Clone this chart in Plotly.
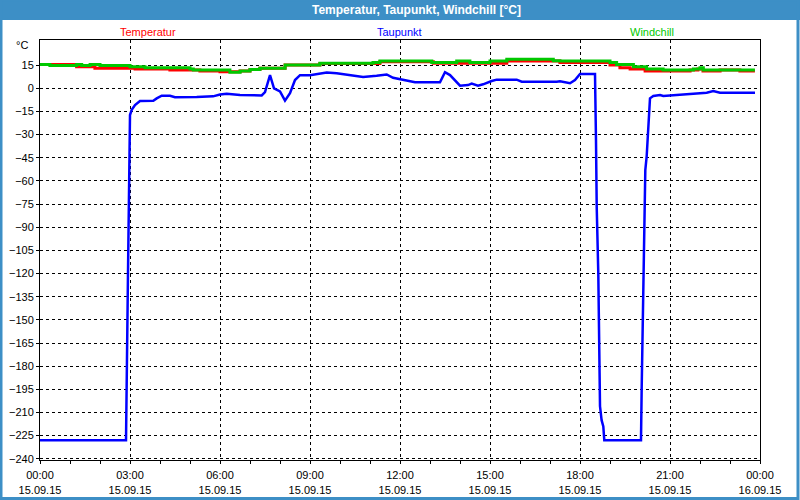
import plotly.graph_objects as go

# ---- data (hours since 15.09.15 00:00, °C) ----
temp_h = [0, 1.22, 1.83, 3.17, 4.33, 5.33, 6.0, 6.67, 7.0, 7.33, 8.17, 9.33, 11.33, 13.11,
          14.33, 15.56, 17.33, 18.0, 19.0, 19.33, 19.67, 20.17, 21.67, 21.93, 22.1, 22.67,
          23.33, 23.83]
temp_v = [15.5, 14.0, 13.0, 12.5, 11.9, 11.2, 10.8, 11.2, 12.2, 13.0, 15.1, 16.0, 17.2, 16.2,
          16.2, 17.7, 16.8, 16.8, 15.1, 13.4, 12.5, 11.2, 11.9, 12.5, 11.2, 11.9,
          11.2, 11.2]

wind_h = [0, 0.33, 1.22, 1.39, 1.67, 2.0, 3.0, 3.5, 5.0, 5.11, 6.0, 6.33, 6.67, 7.0, 7.33,
          8.17, 9.33, 11.1, 11.33, 13.06, 13.89, 14.33, 15.0, 15.56, 17.11, 17.33, 19.0,
          19.22, 19.78, 20.22, 20.77, 21.78, 22.0, 22.11, 23.83]
wind_v = [15.5, 14.7, 15.5, 14.7, 15.5, 14.7, 14.0, 13.4, 12.5, 11.9, 11.9, 10.4, 11.2, 12.2, 13.0,
          15.1, 16.2, 16.8, 17.7, 16.8, 17.7, 16.8, 17.7, 18.8, 17.9, 17.7, 16.8,
          15.5, 14.0, 12.5, 11.9, 12.5, 13.4, 11.9, 11.9]

dew_h = [0, 2.867, 2.933, 2.977, 3.0, 3.057, 3.167, 3.333, 3.777, 3.89, 4.057, 4.333, 4.5,
         5.223, 5.767, 6.0, 6.223, 6.667, 7.39, 7.5, 7.667, 7.8, 8.0, 8.167, 8.333, 8.5,
         8.667, 9.0, 9.557, 9.89, 10.43, 10.77, 11.22, 11.557, 11.77, 12.0, 12.22, 12.5,
         13.333, 13.5, 13.667, 14.0, 14.267, 14.39, 14.6, 14.77, 15.057, 15.223, 15.89,
         16.057, 17.223, 17.333, 17.667, 17.833, 18.0, 18.5, 18.533, 18.557, 18.61, 18.643,
         18.667, 18.72, 18.777, 18.81, 20.033, 20.057, 20.09, 20.11, 20.143, 20.177, 20.223,
         20.257, 20.29, 20.333, 20.443, 20.667, 20.777, 21.11, 21.333, 22.223, 22.443,
         22.667, 23.833]
dew_v = [-228, -228, -120, -33.5, -17.3, -14, -10.8, -8.2, -8, -6.5, -4.8, -4.8, -5.8,
         -5.6, -5.2, -4.0, -3.5, -4.3, -4.6, -2.5, 8.6, 0, -2, -8, -3.2, 5.4,
         8.5, 8.4, 10.2, 9.7, 8.4, 7.4, 8.2, 9.0, 6.8, 6.0, 5.3, 3.9,
         3.9, 10.4, 8.6, 1.7, 2.1, 3.0, 1.7, 2.6, 4.7, 5.6, 5.6,
         4.3, 4.3, 4.5, 3.3, 5.4, 9.3, 9.3, -33.5, -76.7, -120, -163,
         -206, -215, -219, -228, -228, -193, -159, -124, -90, -53, -44,
         -33.5, -16, -6.5, -5, -4.3, -5, -4.5, -3.7, -2.8, -1.8,
         -2.8, -2.8]

x_tickvals = [0, 3, 6, 9, 12, 15, 18, 21, 24]
x_ticktext = ["00:00<br>15.09.15", "03:00<br>15.09.15", "06:00<br>15.09.15",
              "09:00<br>15.09.15", "12:00<br>15.09.15", "15:00<br>15.09.15",
              "18:00<br>15.09.15", "21:00<br>15.09.15", "00:00<br>16.09.15"]
y_tickvals = list(range(-240, 16, 15))

series_names = ["Temperatur", "Taupunkt", "Windchill"]
series_colors = ["#ff0000", "#0000ff", "#00c800"]

# ---- figure ----
W, H = 800, 500
L, R, T, B = 40, 40, 40, 40
PW, PH = W - L - R, H - T - B


def px(x):
    return (x - L) / PW


def py(y):
    return (H - B - y) / PH


fig = go.Figure()
fig.add_trace(go.Scatter(x=temp_h, y=temp_v, mode="lines", line_shape="hv",
                         line=dict(color=series_colors[0], width=3), name=series_names[0]))
fig.add_trace(go.Scatter(x=dew_h, y=dew_v, mode="lines",
                         line=dict(color=series_colors[1], width=2.5), name=series_names[1]))
fig.add_trace(go.Scatter(x=wind_h, y=wind_v, mode="lines", line_shape="hv",
                         line=dict(color=series_colors[2], width=3), name=series_names[2]))

font = "Liberation Sans"
fig.update_layout(
    width=W, height=H, margin=dict(l=L, r=R, t=T, b=B, autoexpand=False),
    paper_bgcolor="white", plot_bgcolor="white", showlegend=False,
    font=dict(family=font, size=11, color="black"),
    xaxis=dict(range=[0, 24], tickvals=x_tickvals, ticktext=x_ticktext, automargin=False,
               showgrid=True, gridcolor="black", griddash="3px,3px", gridwidth=1,
               showline=True, linecolor="black", linewidth=1, mirror=True,
               ticks="outside", ticklen=3, tickcolor="black", zeroline=False,
               ticklabelstandoff=2,
               minor=dict(dtick=1, tick0=0, ticks="outside", ticklen=3, tickcolor="black",
                          showgrid=False),
               tickfont=dict(family=font, size=11)),
    yaxis=dict(range=[-240.8, 31.3], tickvals=y_tickvals, automargin=False,
               showgrid=True, gridcolor="black", griddash="3px,3px", gridwidth=1,
               showline=True, linecolor="black", linewidth=1, mirror=True,
               ticks="outside", ticklen=3, tickcolor="black", zeroline=False,
               tickfont=dict(family=font, size=11)),
)

shapes = [
    dict(type="rect", xref="paper", yref="paper", x0=px(0), x1=px(W), y0=py(20), y1=py(0),
         fillcolor="#3d8fc6", line=dict(width=0), layer="above"),
    dict(type="rect", xref="paper", yref="paper", x0=px(1), x1=px(W - 2), y0=py(H - 1.5), y1=py(0),
         fillcolor="rgba(0,0,0,0)", line=dict(color="#3d8fc6", width=3), layer="above"),
]
fig.update_layout(shapes=shapes)

ann = [
    dict(text="<b>Temperatur, Taupunkt, Windchill [°C]</b>", x=px(416), y=py(10),
         font=dict(family=font, size=12, color="white")),
    dict(text=series_names[0], x=px(148), y=py(32), font=dict(family=font, size=11, color=series_colors[0])),
    dict(text=series_names[1], x=px(399), y=py(32), font=dict(family=font, size=11, color=series_colors[1])),
    dict(text=series_names[2], x=px(652), y=py(32), font=dict(family=font, size=11, color=series_colors[2])),
    dict(text="°C", x=px(22), y=py(45), font=dict(family=font, size=11, color="black")),
]
for a in ann:
    a.update(xref="paper", yref="paper", showarrow=False, xanchor="center", yanchor="middle")
fig.update_layout(annotations=ann)

fig.write_html("out.html")
